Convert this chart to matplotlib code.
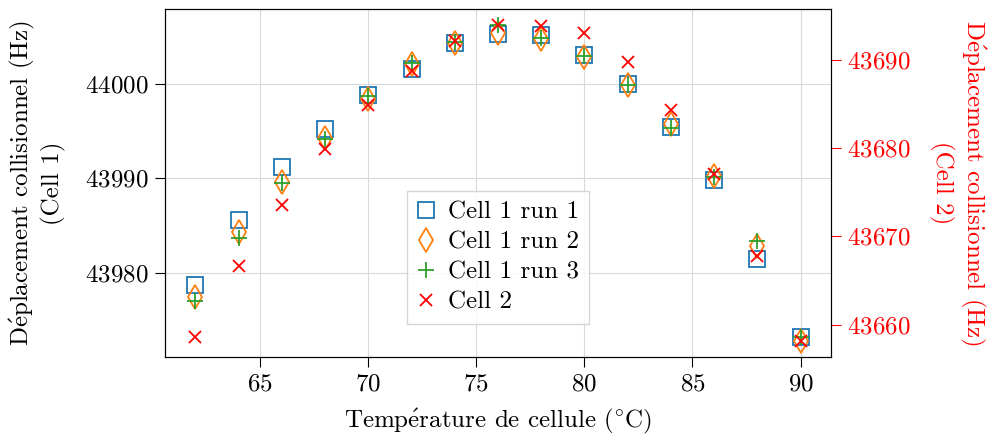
import matplotlib
matplotlib.use("Agg")
import matplotlib.pyplot as plt

plt.rcParams['font.family'] = ['cmr10', 'DejaVu Serif']
plt.rcParams['mathtext.fontset'] = 'cm'
plt.rcParams['axes.formatter.use_mathtext'] = True
plt.rcParams['font.size'] = 18

# temperatures (°C)
temps = [62, 64, 66, 68, 70, 72, 74, 76, 78, 80, 82, 84, 86, 88, 90]

# Cell 1, three runs (Hz)
run1 = [43978.66, 43985.6, 43991.19, 43995.27, 43998.84, 44001.59, 44004.3, 44005.26,
        44005.15, 44003.1, 44000.0, 43995.48, 43989.84, 43981.45, 43973.15]
run2 = [43977.39, 43984.3, 43989.56, 43994.25, 43998.38, 44002.08, 44004.37, 44005.36,
        44004.76, 44002.9, 43999.9, 43995.77, 43990.19, 43982.78, 43972.73]
run3 = [43976.96, 43983.67, 43989.49, 43994.15, 43998.73, 44002.19, 44004.48, 44006.24,
        44004.83, 44002.96, 43999.9, 43995.31, 43990.09, 43983.31, 43973.15]

# Cell 2 (Hz)
cell2 = [43658.56, 43666.6, 43673.58, 43679.92, 43684.91, 43688.79, 43692.19, 43693.96,
         43693.9, 43693.1, 43689.8, 43684.34, 43677.09, 43667.73, 43658.11]

# cmr10 has no é, so it goes through mathtext (same Computer Modern look)
e_acute = r'$\mathrm{\acute{e}}$'
ylab = 'D' + e_acute + 'placement collisionnel (Hz)'

fig, ax1 = plt.subplots(figsize=(9.89, 4.37), dpi=100)
fig.subplots_adjust(left=0.167, right=0.840, top=0.979, bottom=0.183)

ax1.plot(temps, run1, 's', ms=11, mfc='none', mec='tab:blue', mew=1.3, ls='none', label='Cell 1 run 1')
ax1.plot(temps, run2, 'd', ms=12, mfc='none', mec='tab:orange', mew=1.3, ls='none', label='Cell 1 run 2')
ax1.plot(temps, run3, '+', ms=12, color='tab:green', mew=1.3, ls='none', label='Cell 1 run 3')

ax2 = ax1.twinx()
ax2.plot(temps, cell2, 'x', ms=9, color='red', mew=1.3, ls='none', label='Cell 2')

ax1.grid(True, color='#d9d9d9', lw=0.8)
ax1.set_axisbelow(True)
ax1.ticklabel_format(useOffset=False)
ax2.ticklabel_format(useOffset=False)
ax1.set_xticks([65, 70, 75, 80, 85, 90])
ax1.set_yticks([43980, 43990, 44000])
ax2.set_yticks([43660, 43670, 43680, 43690])
ax1.tick_params(length=7, pad=5)
ax2.tick_params(length=7, pad=5)

ax1.set_xlabel('Temp' + e_acute + r'rature de cellule $(^{\circ}\mathrm{C})$', labelpad=8)
ax1.set_ylabel(ylab + '\n(Cell 1)', labelpad=14)
ax2.set_ylabel(ylab + '\n(Cell 2)', color='red', rotation=270, labelpad=55)
ax2.tick_params(axis='y', colors='red')
ax2.spines['right'].set_color('black')

h1, l1 = ax1.get_legend_handles_labels()
h2, l2 = ax2.get_legend_handles_labels()
leg = ax1.legend(h1 + h2, l1 + l2, loc='lower left', bbox_to_anchor=(0.363, 0.095),
                 fancybox=False, edgecolor='#cccccc', framealpha=0.8, numpoints=1,
                 handlelength=0.7, handletextpad=0.55, labelspacing=0.3,
                 borderpad=0.4, borderaxespad=0)
leg.set_zorder(5)

fig.savefig('out.png', dpi=100)
